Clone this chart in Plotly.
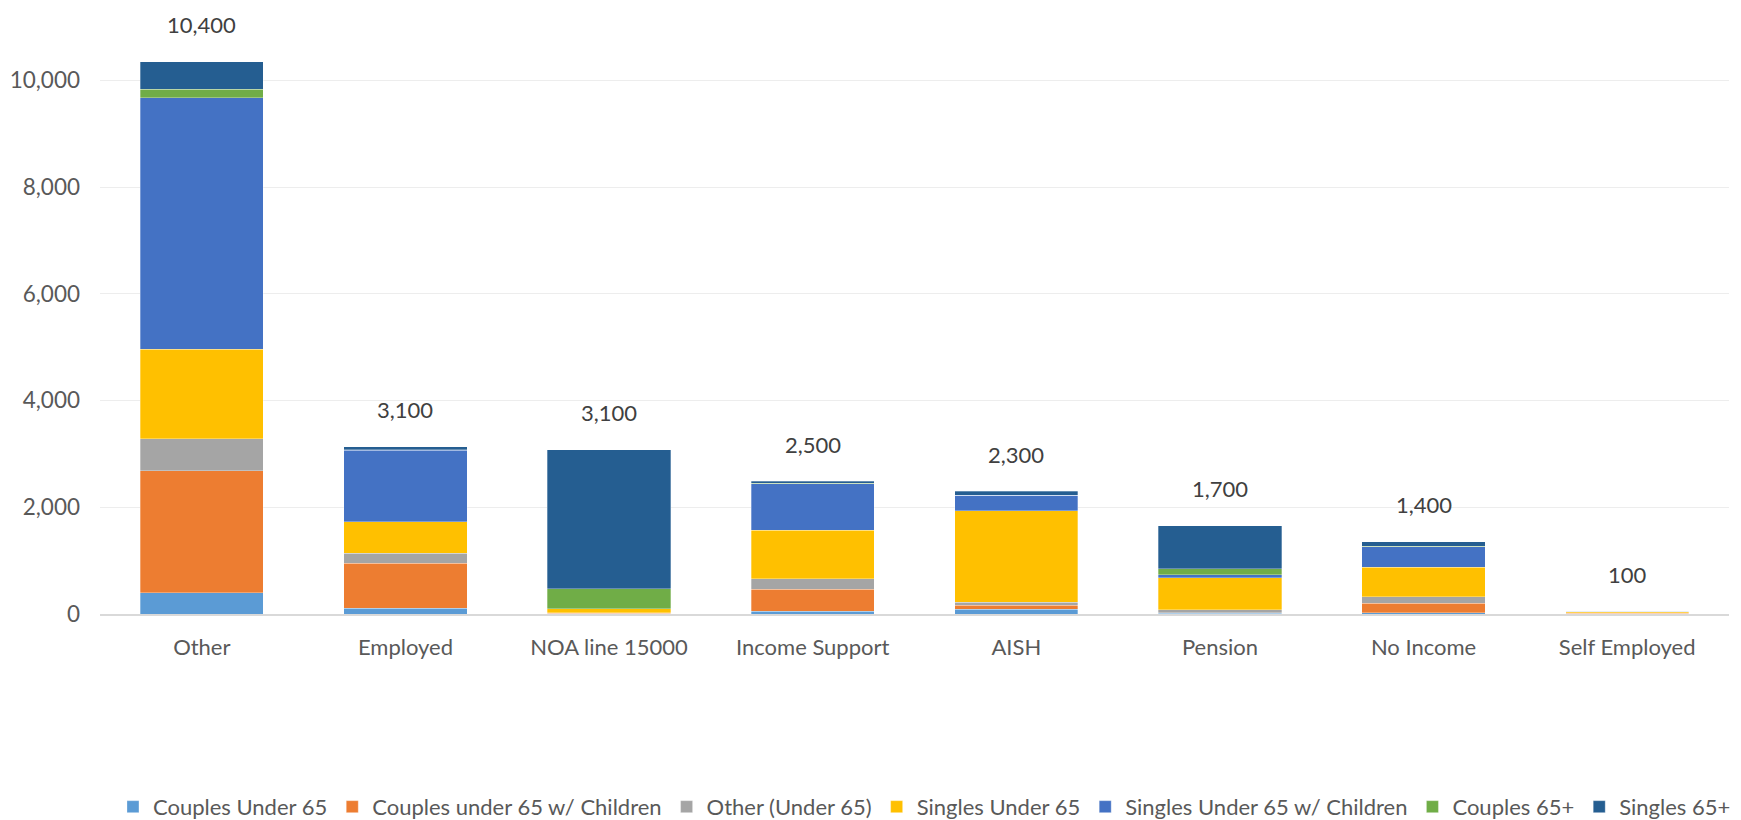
import plotly.graph_objects as go

categories = ["Other", "Employed", "NOA line 15000", "Income Support", "AISH", "Pension", "No Income", "Self Employed"]

couples_under_65 = [395, 106, 5, 56, 87, 15, 20, 5]
couples_under_65_children = [2290, 850, 10, 411, 75, 5, 182, 10]
other_under_65 = [600, 181, 10, 193, 62, 56, 126, 5]
singles_under_65 = [1673, 594, 70, 910, 1713, 604, 553, 25]
singles_under_65_children = [4715, 1337, 0, 872, 287, 56, 377, 5]
couples_65_plus = [160, 12, 375, 12, 5, 112, 15, 0]
singles_65_plus = [520, 56, 2612, 37, 69, 804, 82, 2]

total_labels = ["10,400", "3,100", "3,100", "2,500", "2,300", "1,700", "1,400", "100"]

y_ticks = [0, 2000, 4000, 6000, 8000, 10000]

series = [
    ("Couples Under 65", couples_under_65, "#5B9BD5"),
    ("Couples under 65 w/ Children", couples_under_65_children, "#ED7D31"),
    ("Other (Under 65)", other_under_65, "#A5A5A5"),
    ("Singles Under 65", singles_under_65, "#FFC000"),
    ("Singles Under 65 w/ Children", singles_under_65_children, "#4472C4"),
    ("Couples 65+", couples_65_plus, "#70AD47"),
    ("Singles 65+", singles_65_plus, "#255E91"),
]

FONT = "Lato"

fig = go.Figure()
for name, vals, color in series:
    fig.add_trace(go.Bar(
        x=categories, y=vals, name=name, legendgroup=name,
        marker=dict(color=color, line=dict(color="rgba(255,255,255,0.6)", width=0.5)),
        hovertemplate="%{x}<br>" + name + ": %{y:,}<extra></extra>",
    ))

totals = [sum(s[1][i] for s in series) for i in range(len(categories))]
for cat, tot, lab in zip(categories, totals, total_labels):
    fig.add_annotation(x=cat, y=tot, text=lab, showarrow=False, yshift=37,
                       font=dict(family=FONT, size=22, color="#404040"))

fig.update_layout(
    barmode="stack",
    bargap=0.395,
    width=1741, height=820,
    margin=dict(l=100, r=12, t=20, b=206, autoexpand=False),
    plot_bgcolor="white", paper_bgcolor="white",
    font=dict(family=FONT, size=22, color="#595959"),
    legend=dict(orientation="h", x=0.531, xanchor="center", xref="container",
                y=0.016, yanchor="middle", yref="container",
                font=dict(family=FONT, size=22, color="#595959"),
                traceorder="normal", itemwidth=30, tracegroupgap=14),
    showlegend=True,
)
fig.update_xaxes(showline=True, linecolor="#D9D9D9", linewidth=1.5, ticks="",
                 ticklabelstandoff=13, tickfont=dict(size=22, color="#595959"))
fig.update_yaxes(range=[0, 11134], tickvals=y_ticks, tickformat=",", showgrid=True,
                 gridcolor="#EDEDED", gridwidth=1, zeroline=False, ticks="",
                 ticklabelstandoff=19, tickfont=dict(size=22.5, color="#595959"))

fig.write_html("out.html")
